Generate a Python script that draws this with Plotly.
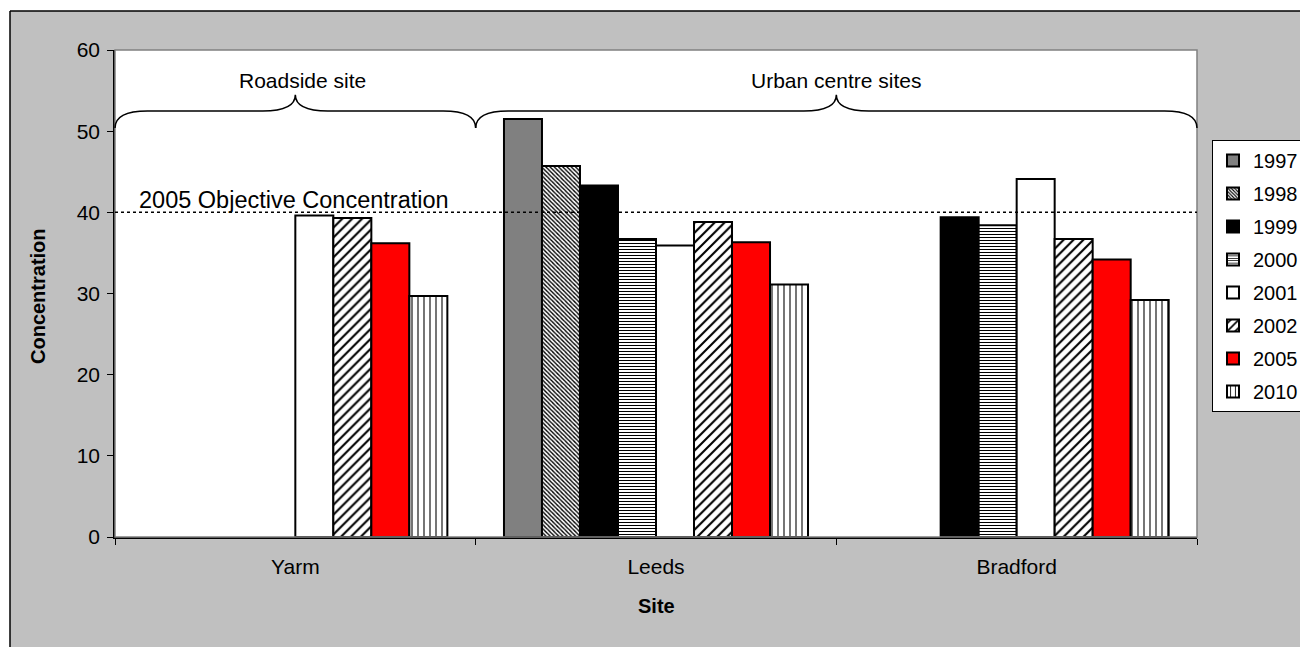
import plotly.graph_objects as go

# Annual mean concentrations by site
sites = ["Yarm", "Leeds", "Bradford"]
years = ["1997", "1998", "1999", "2000", "2001", "2002", "2005", "2010"]

conc_1997 = [None, 51.5, None]
conc_1998 = [None, 45.7, None]
conc_1999 = [None, 43.3, 39.4]
conc_2000 = [None, 36.7, 38.4]
conc_2001 = [39.6, 35.9, 44.1]
conc_2002 = [39.3, 38.8, 36.7]
conc_2005 = [36.2, 36.3, 34.2]
conc_2010 = [29.7, 31.1, 29.2]

objective_2005 = 40

series = [conc_1997, conc_1998, conc_1999, conc_2000,
          conc_2001, conc_2002, conc_2005, conc_2010]

# Fill style per year: (solid colour, pattern shape, pattern size, solidity)
styles = [
    ("#808080", "", 8, 0.3),
    ("white", "\\", 3, 0.45),
    ("black", "", 8, 0.3),
    ("white", "-", 3, 0.35),
    ("white", "", 8, 0.3),
    ("white", "/", 7, 0.3),
    ("#FF0000", "", 8, 0.3),
    ("white", "|", 6, 0.18),
]

FONT = "Liberation Sans, Arial, sans-serif"
FS = 21

fig = go.Figure()
for year, vals, (col, shp, sz, sol) in zip(years, series, styles):
    marker = dict(color=col, line=dict(color="black", width=2))
    if shp:
        marker["pattern"] = dict(shape=shp, fgcolor="black", bgcolor="white",
                                 size=sz, solidity=sol, fillmode="replace")
    fig.add_trace(go.Bar(name=year, x=sites, y=vals, marker=marker,
                         legendgroup=year))

W, H = 1300, 647
ML, MR, MT, MB = 115, 103, 50, 110
PW, PH = W - ML - MR, H - MT - MB


def px_x(px):
    return (px - ML) / PW


def px_y(py):
    return (H - MB - py) / PH


shapes = []
# white surround and black frame of the chart area
shapes.append(dict(type="rect", xref="paper", yref="paper",
                   x0=px_x(-5), x1=px_x(W + 5), y0=px_y(11), y1=px_y(-5),
                   fillcolor="white", line=dict(width=0), layer="below"))
shapes.append(dict(type="rect", xref="paper", yref="paper",
                   x0=px_x(-5), x1=px_x(10), y0=px_y(H + 5), y1=px_y(-5),
                   fillcolor="white", line=dict(width=0), layer="below"))
shapes.append(dict(type="line", xref="paper", yref="paper",
                   x0=px_x(10), x1=px_x(10), y0=px_y(H + 5), y1=px_y(11),
                   line=dict(color="black", width=1.5)))
shapes.append(dict(type="line", xref="paper", yref="paper",
                   x0=px_x(10), x1=px_x(W + 5), y0=px_y(11), y1=px_y(11),
                   line=dict(color="black", width=1.5)))
# plot area outline
shapes.append(dict(type="rect", xref="paper", yref="paper", x0=0, x1=1, y0=0, y1=1,
                   line=dict(color="#808080", width=1.5), layer="above"))

# objective line
shapes.append(dict(type="line", xref="paper", yref="y", x0=0, x1=1,
                   y0=objective_2005, y1=objective_2005,
                   line=dict(color="black", width=1.5, dash="dot"), layer="above"))


def brace(x0, x1, xm, yend, yh, ytip, d=0.03, dt=0.03):
    return (f"M {x0},{yend} Q {x0},{yh} {x0 + d},{yh} "
            f"L {xm - dt},{yh} Q {xm},{yh} {xm},{ytip} "
            f"Q {xm},{yh} {xm + dt},{yh} "
            f"L {x1 - d},{yh} Q {x1},{yh} {x1},{yend}")


n = len(sites)
for c0, c1 in [(0, 1), (1, 3)]:
    x0, x1 = c0 / n, c1 / n
    shapes.append(dict(type="path", xref="paper", yref="y",
                       path=brace(x0, x1, (x0 + x1) / 2, 50.4, 52.5, 54.5),
                       line=dict(color="black", width=1.5)))

annotations = [
    dict(text="Roadside site", xref="paper", yref="y", x=px_x(302), y=56.3,
         xanchor="center", showarrow=False, font=dict(size=FS, color="black")),
    dict(text="Urban centre sites", xref="paper", yref="y", x=2 / n, y=56.3,
         xanchor="center", showarrow=False, font=dict(size=FS, color="black")),
    dict(text="2005 Objective Concentration", xref="paper", yref="y",
         x=px_x(137), y=objective_2005, xanchor="left", yanchor="bottom",
         yshift=-3, showarrow=False, font=dict(size=23.5, color="black")),
    dict(text="<b>Concentration</b>", xref="paper", yref="paper",
         x=px_x(38), y=px_y(296), xanchor="center", yanchor="middle",
         textangle=-90, showarrow=False, font=dict(size=20, color="black")),
    dict(text="<b>Site</b>", xref="paper", yref="paper",
         x=0.5, y=px_y(606), xanchor="center", yanchor="middle",
         showarrow=False, font=dict(size=20, color="black")),
]

fig.update_layout(
    width=W, height=H,
    margin=dict(l=ML, r=MR, t=MT, b=MB, pad=0, autoexpand=False),
    paper_bgcolor="#C0C0C0",
    plot_bgcolor="white",
    font=dict(family=FONT, size=FS, color="black"),
    barmode="group",
    bargap=0.157,
    bargroupgap=0,
    showlegend=True,
    legend=dict(x=px_x(1212), y=px_y(140),
                xanchor="left", yanchor="top",
                bgcolor="white", bordercolor="black", borderwidth=1,
                font=dict(size=20, color="black"),
                traceorder="grouped", tracegroupgap=4, itemwidth=30),
    shapes=shapes,
    annotations=annotations,
)

fig.update_xaxes(type="category", showline=True, linecolor="black", linewidth=1.5,
                 ticks="outside", tickson="boundaries", ticklen=6,
                 tickcolor="black", showgrid=False, zeroline=False,
                 ticklabelstandoff=10, tickfont=dict(size=FS))
fig.update_yaxes(range=[0, 60], dtick=10, showline=True, linecolor="black",
                 linewidth=1.5, ticks="outside", ticklen=6, tickcolor="black",
                 showgrid=False, zeroline=False, ticklabelstandoff=3,
                 tickfont=dict(size=FS))

fig.write_html("out.html")
